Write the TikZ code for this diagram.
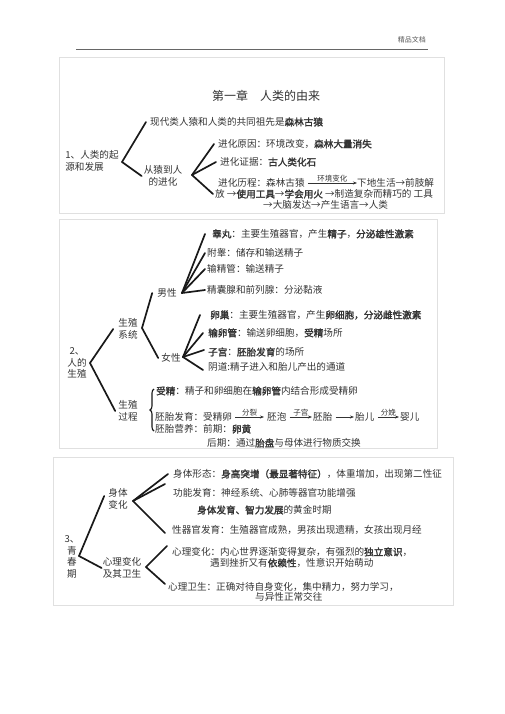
\documentclass[tikz,border=0pt]{standalone}
\usepackage{fontspec}
\newfontfamily\cjk[AutoFakeBold=2]{Noto Sans CJK SC}
\usetikzlibrary{arrows.meta, decorations.pathreplacing}
\newcommand{\kw}[1]{{\bfseries #1}}

\begin{document}
\begin{tikzpicture}[x=1pt, y=-1pt,
    every node/.style={font=\cjk\fontsize{9.6}{11.5}\selectfont, text=black!80, inner sep=0pt},
    txt/.style={anchor=west},
    sub/.style={align=center},
    branch/.style={line width=1.7pt, line cap=round, black!90},
    frame/.style={draw=black!12, line width=0.6pt},
    flow/.style={-{Stealth[length=4pt,width=3pt]}, line width=0.6pt, black!80},
    tag/.style={font=\cjk\fontsize{7.5}{8}\selectfont, above=1pt}]
  \useasboundingbox (0,0) rectangle (505,714);

  % header
  \node[anchor=east, font=\cjk\fontsize{7}{8}\selectfont, text=black!65] (hdr) at (426,40) {精品文档};
  \draw[black!60, line width=0.9pt] (76,49) -- (428,49);

  % 1: origin of man
  \draw[frame] (59,57) rectangle (444,213);
  \node (title) at (266,96) {\fontsize{12}{14}\selectfont 第一章\quad 人类的由来};
  \node[sub, align=left] (root1) at (92,161) {1、人类的起\\源和发展};
  \coordinate (v1) at (122,162);
  \node[txt] (ances) at (150,122) {现代类人猿和人类的共同祖先是\kw{森林古猿}};
  \node[sub] (apeman) at (163,176) {从猿到人\\的进化};
  \draw[branch] (v1) -- ([xshift=-4pt]ances.west);
  \draw[branch] (v1) -- ([xshift=-2pt]apeman.west);

  \coordinate (v2) at (192,175);
  \node[txt] (cause) at (218,144) {进化原因：环境改变，\kw{森林大量消失}};
  \node[txt] (proof) at (220,162) {进化证据：\kw{古人类化石}};
  \node[txt] (path0) at (218,183) {进化历程：森林古猿};
  \node[txt] (path1) at (357,183) {下地生活→前肢解};
  \node[txt] (path2) at (215,194) {放 →\kw{使用工具}→\kw{学会用火} →制造复杂而精巧的 工具};
  \node[txt] (path3) at (263,205) {→大脑发达→产生语言→人类};
  \draw[branch] (v2) -- ([xshift=-4pt]cause.west);
  \draw[branch] (v2) -- ([xshift=-4pt]proof.west);
  \draw[branch] (v2) -- ([xshift=-2pt]path2.west);
  \draw[flow] ([xshift=3pt]path0.east) -- (path1.west) node[tag, midway] {环境变化};

  % 2: reproduction
  \draw[frame] (59,219) rectangle (437,448);
  \node[sub] (root2) at (77,363) {2、\\人的\\生殖};
  \coordinate (va) at (90,363);
  \node[sub] (sys) at (128,329) {生殖\\系统};
  \node[sub] (proc) at (128,411) {生殖\\过程};
  \draw[branch] (va) -- ([xshift=-5pt]sys.west);
  \draw[branch] (va) -- ([xshift=-3pt]proc.west);

  \coordinate (vb) at (142,328);
  \node (male) at (167,293) {男性};
  \node (female) at (171,358) {女性};
  \draw[branch] (vb) -- ([xshift=-5pt]male.west);
  \draw[branch] (vb) -- ([xshift=-3pt]female.west);

  \coordinate (vc) at (182,293);
  \node[txt] (testis) at (212,234) {\kw{睾丸}：主要生殖器官，产生\kw{精子}，\kw{分泌雄性激素}};
  \node[txt] (epid) at (207,253) {附睾：储存和输送精子};
  \node[txt] (vasdef) at (207,269) {输精管：输送精子};
  \node[txt] (gland) at (207,290) {精囊腺和前列腺：分泌黏液};
  \draw[branch] (vc) -- ([xshift=-7pt]testis.west);
  \draw[branch] (vc) -- ([xshift=-2pt]epid.west);
  \draw[branch] (vc) -- ([xshift=-2pt]vasdef.west);
  \draw[branch] (vc) -- ([xshift=-2pt]gland.west);

  \coordinate (vd) at (183,357);
  \node[txt] (ovary) at (210,315) {\kw{卵巢}：主要生殖器官，产生\kw{卵细胞，分泌雌性激素}};
  \node[txt] (tube) at (208,333) {\kw{输卵管}：输送卵细胞，\kw{受精}场所};
  \node[txt] (uterus) at (208,352) {\kw{子宫}：\kw{胚胎发育}的场所};
  \node[txt] (vagina) at (208,367) {阴道:精子进入和胎儿产出的通道};
  \draw[branch] (vd) -- ([xshift=-10pt]ovary.west);
  \draw[branch] (vd) -- ([xshift=-5pt]tube.west);
  \draw[branch] (vd) -- ([xshift=-4pt, yshift=2pt]uterus.west);
  \draw[branch] (vd) -- ([xshift=-5pt, yshift=-3pt]vagina.west);

  \draw[line width=1.1pt, black!90, decorate, decoration={brace, amplitude=4pt}]
    (154,431) -- (154,389);
  \node[txt] (fert) at (156,391) {\kw{受精}：精子和卵细胞在\kw{输卵管}内结合形成受精卵};
  \node[txt] (emb0) at (155,417) {胚胎发育：受精卵};
  \node[txt] (emb1) at (267,417) {胚泡};
  \node[txt] (emb2) at (313,417) {胚胎};
  \node[txt] (emb3) at (355,417) {胎儿};
  \node[txt] (emb4) at (400,417) {婴儿};
  \draw[flow] ([xshift=3pt]emb0.east) -- ([xshift=-3pt]emb1.west) node[tag, midway] {分裂};
  \draw[flow] ([xshift=3pt]emb1.east) -- ([xshift=-1pt]emb2.west) node[tag, midway] {子宫};
  \draw[flow] ([xshift=3pt]emb2.east) -- ([xshift=-1pt]emb3.west);
  \draw[flow] ([xshift=3pt]emb3.east) -- ([xshift=-1pt]emb4.west) node[tag, midway] {分娩};
  \node[txt] (feed) at (155,429) {胚胎营养：前期：\kw{卵黄}};
  \node[txt] (late) at (207,443) {后期：通过\kw{胎盘}与母体进行物质交换};

  % 3: puberty
  \draw[frame] (53,457) rectangle (453,605);
  \node[sub] (root3) at (72,557) {3、\\青\\春\\期};
  \coordinate (ve) at (79,556);
  \node[sub] (body) at (118,499) {身体\\变化};
  \node[sub] (mind) at (122,568) {心理变化\\及其卫生};
  \draw[branch] (ve) -- ([xshift=-4pt, yshift=3pt]body.west);
  \draw[branch] (ve) -- ([xshift=-1pt]mind.west);

  \coordinate (vf) at (133,501);
  \node[txt] (shape) at (173,474) {身体形态：\kw{身高突增（最显著特征）}，体重增加，出现第二性征};
  \node[txt] (func) at (173,493) {功能发育：神经系统、心肺等器官功能增强};
  \node[txt] (gold) at (197,510) {\kw{身体发育、智力发展}的黄金时期};
  \node[txt] (sexorg) at (172,530) {性器官发育：生殖器官成熟，男孩出现遗精，女孩出现月经};
  \draw[branch] (vf) -- ([xshift=-5pt]shape.west);
  \draw[branch] (vf) -- ([xshift=-8pt, yshift=9pt]func.west);
  \draw[branch] (vf) -- ([xshift=-7pt, yshift=-3pt]sexorg.west);

  \coordinate (vg) at (146,567);
  \node[txt] (psy1) at (172,552) {心理变化：内心世界逐渐变得复杂，有强烈的\kw{独立意识}，};
  \node[txt] (psy2) at (210,563) {遇到挫折又有\kw{依赖性}，性意识开始萌动};
  \node[txt] (hyg1) at (168,587) {心理卫生：正确对待自身变化，集中精力，努力学习，};
  \node[txt] (hyg2) at (255,597) {与异性正常交往};
  \draw[branch] (vg) -- ([xshift=-5pt, yshift=6pt]psy1.west);
  \draw[branch] (vg) -- ([xshift=-3pt, yshift=3pt]hyg1.west);
\end{tikzpicture}
\end{document}
